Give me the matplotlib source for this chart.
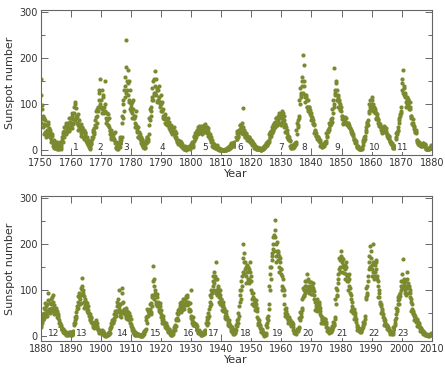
import numpy as np
import matplotlib
matplotlib.use("Agg")
import matplotlib.pyplot as plt
from matplotlib.ticker import MultipleLocator

# ==================================================
# Data: sunspot number
# two readings sets per panel, four per year each
# (mid-quarter readings and quarter-start readings)
# ==================================================
START_A = 1750
ssn_a = [
    # 1750s
    155, 98, 75, 68, 70, 40, 55, 30, 45, 62, 38, 48, 40, 25, 35, 20, 15, 8, 18, 6,
    5, 12, 3, 14, 8, 16, 4, 12, 22, 40, 28, 42, 38, 55, 45, 52, 60, 45, 62, 50,
    # 1760s
    55, 75, 58, 68, 80, 105, 70, 92, 72, 55, 65, 50, 52, 38, 48, 40, 42, 30, 38, 35,
    28, 18, 22, 12, 8, 5, 16, 14, 25, 40, 35, 48, 55, 72, 60, 90, 95, 125, 100, 155,
    # 1770s
    110, 90, 120, 85, 95, 150, 70, 65, 80, 55, 70, 45, 42, 30, 38, 25, 35, 22, 40, 18,
    5, 10, 3, 12, 10, 25, 15, 30, 60, 110, 85, 115, 160, 238, 150, 175, 145, 110, 130, 100,
    # 1780s
    95, 80, 110, 70, 75, 60, 85, 50, 45, 30, 40, 35, 30, 15, 25, 18, 8, 12, 5, 15,
    15, 28, 20, 35, 55, 90, 75, 110, 115, 150, 125, 172, 140, 120, 135, 110, 130, 115, 105, 120,
    # 1790s
    100, 85, 90, 75, 75, 60, 70, 55, 65, 55, 62, 50, 50, 40, 48, 42, 45, 35, 42, 38,
    28, 18, 22, 15, 20, 12, 18, 14, 8, 5, 4, 9, 2, 6, 3, 5, 5, 8, 4, 10,
    # 1800s
    10, 18, 12, 20, 28, 38, 30, 42, 40, 50, 42, 48, 45, 38, 50, 40, 42, 55, 48, 50,
    45, 38, 48, 35, 32, 25, 30, 22, 12, 8, 14, 6, 10, 5, 12, 4, 1, 3, 0, 4,
    # 1810s
    0, 0, 0, 0, 0, 2, 1, 3, 3, 7, 4, 6, 8, 15, 10, 16, 12, 18, 10, 15,
    25, 38, 32, 45, 40, 55, 48, 60, 92, 35, 45, 30, 35, 28, 32, 25, 28, 20, 25, 18,
    # 1820s
    18, 12, 16, 14, 8, 5, 7, 4, 3, 5, 2, 6, 1, 0, 3, 2, 5, 10, 7, 12,
    12, 18, 15, 22, 28, 40, 32, 45, 45, 55, 48, 52, 58, 70, 55, 75, 80, 60, 75, 55,
    # 1830s
    70, 85, 62, 75, 55, 40, 50, 45, 32, 25, 28, 22, 10, 6, 9, 8, 8, 15, 12, 18,
    35, 55, 65, 75, 100, 125, 115, 150, 206, 185, 140, 120, 115, 95, 110, 90, 95, 80, 88, 75,
    # 1840s
    70, 60, 65, 58, 45, 32, 38, 30, 28, 20, 25, 22, 12, 8, 10, 12, 10, 15, 18, 17,
    30, 40, 45, 48, 55, 65, 58, 70, 80, 100, 178, 120, 150, 110, 130, 115, 105, 90, 100, 85,
    # 1850s
    75, 60, 70, 62, 68, 60, 70, 58, 60, 50, 55, 48, 45, 35, 40, 32, 25, 18, 22, 15,
    8, 5, 9, 4, 2, 5, 3, 6, 12, 20, 28, 32, 40, 55, 62, 65, 80, 95, 110, 90,
    # 1860s
    115, 90, 100, 85, 85, 70, 80, 72, 65, 55, 60, 52, 48, 40, 45, 42, 50, 45, 48, 42,
    35, 28, 30, 25, 20, 15, 14, 12, 5, 8, 6, 10, 25, 35, 42, 50, 60, 75, 80, 85,
    # 1870s
    130, 175, 140, 120, 120, 105, 110, 100, 110, 95, 105, 90, 75, 60, 68, 55, 50, 40, 45, 38,
    22, 15, 18, 12, 14, 10, 12, 9, 15, 10, 14, 11, 2, 4, 3, 5, 3, 6, 8, 12,
]
ssn_a_alt = [
    # 1750s
    120, 60, 90, 50, 58, 35, 65, 40, 55, 35, 58, 32, 28, 45, 18, 32, 10, 22, 5, 12,
    8, 2, 18, 7, 4, 12, 18, 8, 30, 18, 35, 50, 50, 35, 60, 40, 48, 70, 42, 62,
    # 1760s
    70, 48, 80, 60, 95, 65, 100, 75, 60, 78, 45, 58, 45, 58, 32, 50, 28, 45, 25, 40,
    20, 28, 15, 18, 12, 4, 10, 20, 30, 45, 28, 40, 65, 85, 50, 75, 85, 110, 130, 95,
    # 1770s
    95, 130, 80, 115, 80, 100, 85, 60, 65, 78, 55, 50, 35, 45, 25, 32, 28, 38, 25, 15,
    8, 2, 6, 15, 18, 8, 28, 22, 75, 100, 70, 130, 140, 180, 125, 130, 120, 150, 105, 90,
    # 1780s
    85, 105, 70, 90, 70, 50, 75, 55, 40, 50, 28, 32, 25, 20, 28, 12, 12, 6, 10, 8,
    22, 18, 30, 25, 70, 65, 95, 85, 135, 110, 155, 120, 125, 155, 105, 130, 110, 140, 95, 100,
    # 1790s
    85, 105, 75, 70, 68, 78, 58, 60, 58, 70, 48, 55, 45, 55, 35, 46, 40, 50, 32, 30,
    25, 20, 14, 18, 15, 20, 10, 16, 7, 10, 3, 6, 4, 1, 7, 3, 6, 9, 5, 8,
    # 1800s
    14, 16, 8, 18, 32, 25, 40, 35, 45, 35, 52, 44, 42, 52, 35, 45, 50, 40, 58, 45,
    40, 50, 42, 32, 28, 35, 22, 18, 10, 15, 8, 9, 8, 6, 9, 3, 2, 5, 1, 2,
    # 1810s
    0, 1, 0, 0, 1, 0, 2, 1, 5, 2, 8, 5, 12, 8, 16, 11, 15, 10, 18, 12,
    30, 42, 28, 38, 45, 55, 38, 52, 40, 50, 35, 42, 30, 38, 22, 30, 22, 30, 18, 22,
    # 1820s
    15, 20, 12, 12, 6, 10, 4, 7, 4, 2, 6, 4, 2, 1, 2, 4, 8, 5, 11, 9,
    16, 12, 20, 18, 35, 28, 42, 38, 50, 42, 60, 50, 62, 70, 55, 70, 65, 75, 58, 70,
    # 1830s
    78, 62, 80, 65, 50, 58, 42, 38, 28, 32, 22, 20, 9, 6, 12, 6, 12, 10, 15, 14,
    45, 60, 50, 70, 110, 135, 120, 140, 160, 125, 150, 115, 105, 120, 95, 110, 85, 95, 78, 82,
    # 1840s
    65, 72, 58, 55, 38, 42, 32, 32, 25, 28, 20, 18, 10, 13, 8, 10, 14, 12, 18, 20,
    38, 32, 45, 45, 60, 55, 68, 62, 90, 110, 95, 130, 125, 145, 110, 120, 95, 110, 88, 95,
    # 1850s
    68, 75, 58, 70, 62, 72, 60, 55, 55, 60, 50, 48, 40, 45, 35, 35, 22, 25, 16, 20,
    7, 9, 5, 5, 4, 3, 5, 4, 18, 22, 25, 25, 50, 45, 60, 55, 85, 100, 88, 100,
    # 1860s
    95, 110, 85, 95, 80, 90, 68, 78, 60, 68, 52, 58, 45, 50, 38, 40, 46, 52, 40, 48,
    32, 35, 26, 32, 18, 20, 14, 15, 7, 5, 9, 7, 30, 38, 40, 45, 70, 65, 78, 95,
    # 1870s
    145, 155, 125, 135, 115, 125, 95, 115, 100, 112, 90, 95, 70, 75, 58, 60, 46, 52, 40, 40,
    18, 22, 14, 15, 12, 14, 9, 12, 12, 15, 10, 12, 3, 5, 2, 3, 5, 4, 7, 10,
]

START_B = 1880
ssn_b = [
    # 1880s
    25, 30, 35, 45, 50, 60, 45, 65, 55, 95, 60, 58, 60, 70, 85, 55, 90, 60, 55, 50,
    58, 50, 48, 45, 30, 22, 25, 20, 15, 12, 14, 10, 8, 5, 7, 6, 5, 8, 4, 7,
    # 1890s
    4, 6, 8, 12, 25, 35, 40, 45, 65, 75, 70, 85, 80, 90, 127, 100, 100, 75, 80, 65,
    70, 60, 65, 58, 45, 38, 42, 40, 30, 25, 22, 28, 28, 25, 30, 22, 14, 10, 12, 11,
    # 1900s
    8, 10, 12, 7, 2, 3, 1, 4, 3, 6, 5, 7, 15, 22, 28, 32, 35, 40, 48, 45,
    55, 65, 70, 100, 60, 50, 55, 105, 95, 55, 60, 48, 50, 45, 55, 42, 48, 40, 45, 38,
    # 1910s
    22, 18, 15, 12, 6, 4, 8, 5, 2, 5, 3, 4, 1, 2, 0, 3, 5, 10, 12, 15,
    35, 45, 55, 52, 55, 60, 52, 65, 90, 152, 110, 100, 90, 75, 85, 70, 70, 60, 65, 58,
    # 1920s
    42, 35, 38, 32, 30, 25, 24, 22, 16, 12, 15, 11, 6, 4, 7, 5, 10, 15, 20, 22,
    35, 40, 48, 55, 60, 65, 70, 58, 75, 65, 70, 68, 80, 75, 90, 70, 70, 60, 55, 100,
    # 1930s
    40, 35, 32, 30, 25, 20, 18, 22, 12, 10, 11, 9, 6, 4, 7, 5, 5, 8, 10, 12,
    25, 35, 40, 45, 65, 75, 85, 95, 110, 120, 115, 125, 125, 160, 100, 110, 95, 85, 90, 80,
    # 1940s
    72, 65, 68, 62, 52, 45, 48, 42, 35, 28, 30, 25, 20, 15, 14, 12, 8, 6, 10, 14,
    22, 30, 38, 45, 75, 90, 100, 110, 140, 200, 160, 145, 150, 130, 140, 120, 145, 125, 140, 130,
    # 1950s
    95, 80, 85, 72, 75, 65, 70, 62, 38, 30, 28, 25, 15, 12, 14, 10, 2, 5, 3, 8,
    20, 30, 45, 60, 100, 135, 150, 180, 190, 200, 220, 253, 200, 175, 185, 180, 175, 150, 160, 145,
    # 1960s
    130, 110, 105, 100, 60, 50, 55, 48, 40, 35, 38, 35, 30, 25, 28, 27, 12, 10, 8, 11,
    12, 14, 16, 18, 35, 45, 50, 58, 85, 90, 100, 110, 110, 100, 135, 105, 110, 105, 100, 108,
    # 1970s
    110, 100, 105, 98, 75, 65, 60, 68, 72, 65, 70, 62, 45, 38, 35, 32, 35, 38, 30, 32,
    18, 14, 15, 12, 10, 12, 15, 14, 20, 25, 30, 38, 70, 90, 100, 115, 145, 150, 165, 185,
    # 1980s
    160, 150, 155, 150, 145, 135, 150, 130, 120, 110, 125, 105, 80, 65, 60, 58, 55, 45, 40, 38,
    20, 18, 15, 16, 12, 10, 15, 16, 20, 28, 32, 38, 85, 95, 110, 120, 160, 150, 195, 170,
    # 1990s
    145, 140, 200, 130, 140, 165, 145, 130, 120, 95, 85, 75, 65, 55, 50, 48, 35, 30, 28, 25,
    22, 18, 15, 14, 10, 8, 9, 7, 6, 15, 25, 35, 40, 55, 70, 85, 80, 95, 100, 110,
    # 2000s
    120, 167, 115, 110, 100, 105, 140, 110, 110, 105, 100, 95, 80, 60, 55, 50, 45, 40, 38, 35,
    35, 30, 25, 28, 18, 15, 14, 12, 10, 8, 6, 5, 3, 4, 2, 3, 2, 3, 4, 6,
]
ssn_b_alt = [
    # 1880s
    40, 20, 48, 38, 62, 40, 72, 48, 70, 45, 78, 52, 72, 50, 80, 62, 75, 48, 68, 55,
    62, 42, 55, 40, 35, 18, 28, 15, 18, 9, 16, 8, 10, 4, 9, 3, 3, 9, 6, 10,
    # 1890s
    9, 3, 10, 6, 30, 42, 28, 52, 60, 88, 62, 95, 70, 105, 72, 110, 95, 62, 88, 70,
    75, 55, 72, 50, 50, 35, 48, 32, 32, 20, 30, 18, 32, 20, 35, 18, 16, 8, 14, 9,
    # 1900s
    12, 6, 14, 9, 4, 1, 5, 2, 2, 8, 4, 9, 18, 28, 20, 35, 30, 48, 35, 55,
    50, 75, 55, 80, 65, 45, 70, 42, 72, 50, 75, 55, 58, 40, 62, 38, 52, 35, 50, 30,
    # 1910s
    26, 14, 20, 10, 8, 3, 9, 4, 5, 2, 6, 3, 2, 0, 3, 1, 7, 12, 6, 14,
    42, 30, 60, 45, 50, 70, 48, 72, 85, 120, 80, 125, 95, 70, 92, 65, 75, 55, 72, 52,
    # 1920s
    48, 30, 45, 28, 32, 20, 30, 18, 18, 10, 16, 9, 8, 3, 8, 4, 12, 20, 14, 25,
    38, 50, 36, 58, 55, 72, 52, 75, 62, 80, 60, 82, 70, 88, 68, 85, 75, 55, 72, 58,
    # 1930s
    45, 28, 42, 25, 28, 15, 26, 16, 14, 7, 13, 8, 8, 3, 8, 4, 6, 11, 7, 14,
    28, 42, 30, 50, 60, 90, 70, 100, 95, 130, 100, 140, 130, 95, 125, 90, 105, 75, 100, 70,
    # 1940s
    80, 58, 75, 55, 58, 40, 55, 38, 38, 24, 35, 22, 22, 12, 20, 10, 6, 12, 8, 16,
    25, 35, 30, 50, 65, 100, 80, 120, 130, 170, 135, 180, 160, 115, 155, 125, 150, 115, 160, 120,
    # 1950s
    100, 70, 95, 65, 82, 58, 78, 55, 42, 25, 35, 22, 18, 9, 16, 8, 5, 1, 6, 3,
    25, 40, 35, 70, 110, 150, 125, 165, 175, 215, 185, 230, 215, 160, 205, 165, 185, 140, 170, 135,
    # 1960s
    145, 100, 125, 90, 70, 45, 62, 40, 45, 30, 42, 28, 35, 22, 32, 20, 14, 7, 12, 6,
    10, 17, 12, 20, 40, 52, 42, 62, 80, 105, 88, 120, 95, 120, 98, 125, 120, 95, 118, 92,
    # 1970s
    118, 92, 115, 90, 82, 58, 72, 55, 80, 58, 75, 55, 48, 30, 42, 28, 40, 28, 38, 26,
    20, 11, 18, 10, 8, 15, 10, 16, 22, 32, 25, 42, 80, 105, 88, 125, 135, 170, 140, 175,
    # 1980s
    170, 140, 168, 138, 155, 125, 160, 120, 130, 100, 135, 95, 90, 55, 75, 50, 60, 38, 50, 32,
    24, 14, 20, 12, 9, 14, 11, 18, 24, 32, 26, 45, 80, 105, 90, 130, 145, 175, 150, 185,
    # 1990s
    155, 130, 160, 125, 155, 130, 160, 125, 110, 85, 100, 70, 70, 50, 60, 42, 40, 25, 35, 22,
    25, 15, 20, 12, 12, 6, 10, 5, 10, 20, 18, 30, 48, 62, 60, 78, 70, 90, 88, 120,
    # 2000s
    105, 135, 110, 125, 95, 120, 90, 125, 115, 95, 110, 85, 75, 55, 70, 48, 48, 35, 45, 32,
    38, 22, 32, 20, 20, 12, 18, 10, 12, 6, 9, 4, 4, 2, 5, 1, 1, 4, 2, 8,
]

# Solar cycle numbers and where they are written along the bottom
cycles_a = ["1", "2", "3", "4", "5", "6", "7", "8", "9", "10", "11"]
cycle_year_a = [1761.8, 1769.8, 1778.4, 1790.3, 1804.8, 1816.2, 1830.0, 1837.5, 1848.6, 1860.9, 1870.3]
cycles_b = ["12", "13", "14", "15", "16", "17", "18", "19", "20", "21", "22", "23"]
cycle_year_b = [1884.2, 1893.7, 1907.3, 1918.1, 1929.2, 1937.5, 1948.1, 1958.7, 1969.0, 1980.3, 1990.7, 2000.3]

# ==================================================
# Style
# ==================================================
DOT = "#7b8a2f"
INK = "#333333"
SPINE = "#666666"

plt.rcParams["font.family"] = ["DejaVu Sans"]

fig = plt.figure(figsize=(4.45, 3.71), dpi=100)
ax_top = fig.add_axes([0.0915, 0.5822, 0.8787, 0.3908])
ax_bot = fig.add_axes([0.0915, 0.0809, 0.8787, 0.3908])


def draw_panel(ax, start, values, values_alt, labels, label_years):
    # mid-quarter readings, then the quarter-start ones in between
    years = start + np.arange(len(values)) * 0.25 + 0.125
    years_alt = start + np.arange(len(values_alt)) * 0.25
    ax.scatter(years, values, s=9, color=DOT, linewidths=0, zorder=2)
    ax.scatter(years_alt, values_alt, s=9, color=DOT, linewidths=0, zorder=2)

    for lab, yr in zip(labels, label_years):
        ax.text(yr, 7, lab, fontsize=6.5, color=INK, ha="center", va="center", zorder=3,
                bbox=dict(boxstyle="square,pad=0.08", facecolor="white", edgecolor="none"))

    ax.set_xlim(start, start + 130)
    ax.set_ylim(-10, 304)
    ax.xaxis.set_major_locator(MultipleLocator(10))
    ax.yaxis.set_major_locator(MultipleLocator(100))
    ax.yaxis.set_minor_locator(MultipleLocator(50))
    ax.tick_params(which="both", direction="in", top=True, right=True,
                   labelsize=7, colors=SPINE, labelcolor=INK, width=0.7, pad=2)
    ax.tick_params(which="major", length=5)
    ax.tick_params(which="minor", length=3)
    for sp in ax.spines.values():
        sp.set_color(SPINE)
        sp.set_linewidth(0.8)
    ax.set_xlabel("Year", fontsize=8, color=INK, labelpad=1)
    ax.set_ylabel("Sunspot number", fontsize=8, color=INK, labelpad=3)


draw_panel(ax_top, START_A, ssn_a, ssn_a_alt, cycles_a, cycle_year_a)
draw_panel(ax_bot, START_B, ssn_b, ssn_b_alt, cycles_b, cycle_year_b)

fig.savefig("out.png", dpi=100)
